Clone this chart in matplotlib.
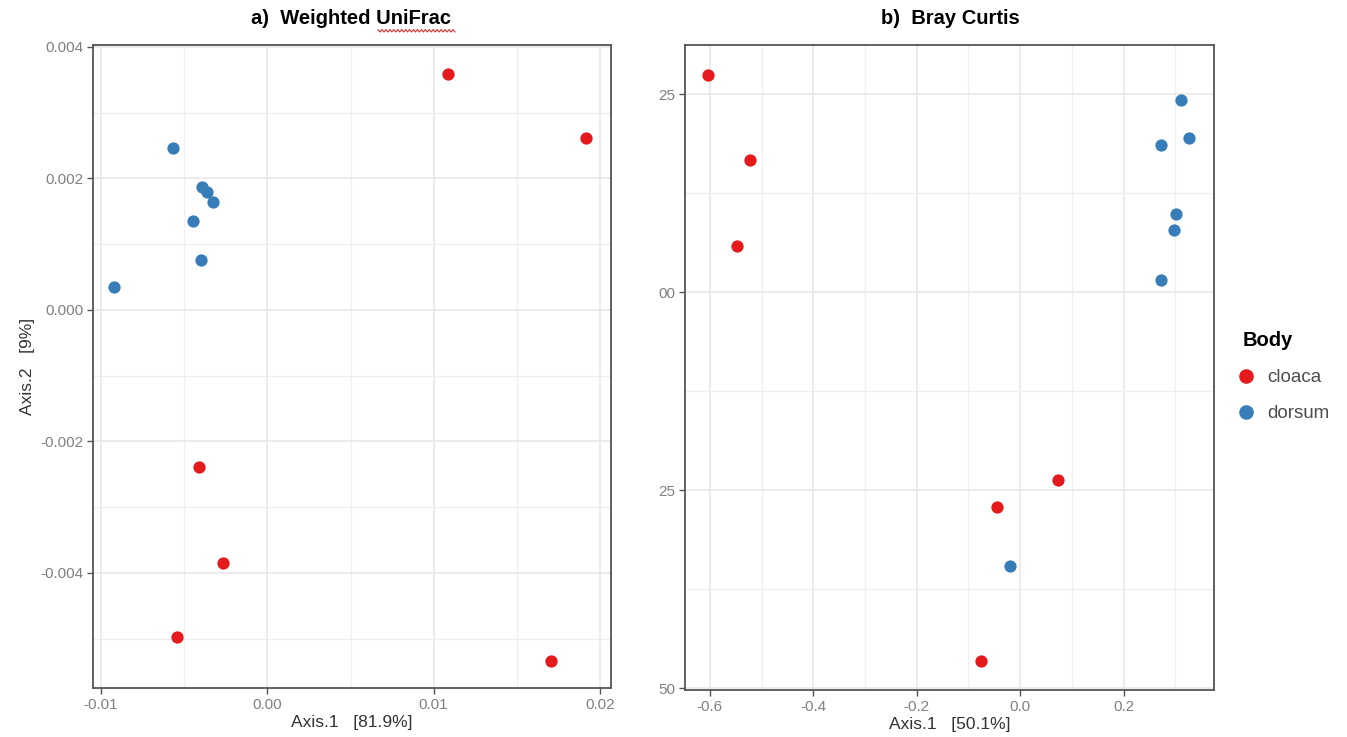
import matplotlib
matplotlib.use("Agg")
import matplotlib.pyplot as plt
from matplotlib.lines import Line2D
import numpy as np

plt.rcParams['font.family'] = ['Liberation Sans', 'DejaVu Sans']

# ---- data ----
groups = ["cloaca", "dorsum"]
colors = {"cloaca": "#E41A1C", "dorsum": "#377EB8"}

# a) Weighted UniFrac
wu_cloaca_x = [0.01087, 0.01916, -0.00408, -0.00264, -0.00541, 0.01706]
wu_cloaca_y = [0.00359, 0.00262, -0.00239, -0.00385, -0.00497, -0.00534]
wu_dorsum_x = [-0.00565, -0.00390, -0.00360, -0.00324, -0.00444, -0.00396, -0.00919]
wu_dorsum_y = [0.00246, 0.00187, 0.00179, 0.00164, 0.00135, 0.00076, 0.00035]

# b) Bray Curtis
bc_cloaca_x = [-0.603, -0.522, -0.547, 0.073, -0.044, -0.075]
bc_cloaca_y = [0.274, 0.167, 0.058, -0.237, -0.271, -0.466]
bc_dorsum_x = [0.311, 0.327, 0.272, 0.301, 0.298, 0.272, -0.019]
bc_dorsum_y = [0.242, 0.194, 0.186, 0.098, 0.078, 0.015, -0.346]

wu_xticks = [-0.01, 0.00, 0.01, 0.02]
wu_xticklabels = ["-0.01", "0.00", "0.01", "0.02"]
wu_yticks = [-0.004, -0.002, 0.000, 0.002, 0.004]
wu_yticklabels = ["-0.004", "-0.002", "0.000", "0.002", "0.004"]
bc_xticks = [-0.6, -0.4, -0.2, 0.0, 0.2]
bc_xticklabels = ["-0.6", "-0.4", "-0.2", "0.0", "0.2"]
bc_yticks = [-0.50, -0.25, 0.00, 0.25]
bc_yticklabels = ["50", "25", "00", "25"]

W, H = 1347, 737
fig = plt.figure(figsize=(W / 100, H / 100), dpi=100)
fig.patch.set_facecolor("white")

def px(x0, y0, x1, y1):
    return [x0 / W, 1 - y1 / H, (x1 - x0) / W, (y1 - y0) / H]

ax1 = fig.add_axes(px(93, 45, 611, 688))
ax2 = fig.add_axes(px(685, 45, 1214, 690))

def style(ax, xticks, xlabels, yticks, ylabels, xminor, yminor):
    ax.set_facecolor("white")
    ax.set_xticks(xticks)
    ax.set_xticklabels(xlabels)
    ax.set_yticks(yticks)
    ax.set_yticklabels(ylabels)
    ax.set_xticks(xminor, minor=True)
    ax.set_yticks(yminor, minor=True)
    ax.grid(True, which="major", color="#e8e8e8", linewidth=1.2, zorder=0)
    ax.grid(True, which="minor", color="#efefef", linewidth=0.9, zorder=0)
    ax.set_axisbelow(True)
    for s in ax.spines.values():
        s.set_color("#555555")
        s.set_linewidth(1.3)
    ax.tick_params(which="major", length=4, width=1.0, color="#555555",
                   labelsize=11, labelcolor="#808080", pad=3)
    ax.tick_params(which="minor", length=0)

style(ax1, wu_xticks, wu_xticklabels, wu_yticks, wu_yticklabels,
      [-0.005, 0.005, 0.015], [-0.005, -0.003, -0.001, 0.001, 0.003])
ax1.set_xlim(-0.01048, 0.02066)
ax1.set_ylim(-0.00575, 0.00403)

style(ax2, bc_xticks, bc_xticklabels, bc_yticks, bc_yticklabels,
      [-0.5, -0.3, -0.1, 0.1, 0.3], [-0.375, -0.125, 0.125])
ax2.set_xlim(-0.648, 0.375)
ax2.set_ylim(-0.5025, 0.312)

ms = 78
ax1.scatter(wu_cloaca_x, wu_cloaca_y, s=ms, color=colors["cloaca"], zorder=3, linewidths=0)
ax1.scatter(wu_dorsum_x, wu_dorsum_y, s=ms, color=colors["dorsum"], zorder=3, linewidths=0)
ax2.scatter(bc_cloaca_x, bc_cloaca_y, s=ms, color=colors["cloaca"], zorder=3, linewidths=0)
ax2.scatter(bc_dorsum_x, bc_dorsum_y, s=ms, color=colors["dorsum"], zorder=3, linewidths=0)

ax1.set_xlabel("Axis.1   [81.9%]", fontsize=12.5, color="#333333", labelpad=2)
ax1.set_ylabel("Axis.2   [9%]", fontsize=12.5, color="#333333", labelpad=4)
ax2.set_xlabel("Axis.1   [50.1%]", fontsize=12.5, color="#333333", labelpad=2)

fig.text(351 / W, 1 - 18 / H, "a)  Weighted UniFrac", ha="center", va="center",
         fontsize=14.5, fontweight="bold", color="black")
fig.text(950 / W, 1 - 18 / H, "b)  Bray Curtis", ha="center", va="center",
         fontsize=14.5, fontweight="bold", color="black")

# spell-check squiggle under "UniFrac"
zx = np.linspace(378, 455, 40)
zy = np.where(np.arange(40) % 2 == 0, 29.5, 32)
fig.add_artist(Line2D(zx / W, 1 - zy / H, color="#e03030", linewidth=0.8))

# legend
handles = [Line2D([], [], marker="o", linestyle="", markersize=10.5,
                  markerfacecolor=colors[g], markeredgewidth=0) for g in groups]
leg = fig.legend(handles, groups, title="Body", loc="upper left",
                 bbox_to_anchor=(1227 / W, 1 - 324 / H), frameon=False,
                 fontsize=13.5, title_fontsize=14.5, handletextpad=0.55,
                 labelspacing=1.0, borderaxespad=0, handlelength=1.2)
leg.get_title().set_fontweight("bold")
leg._legend_box.align = "left"
leg.get_title().set_position((8, 0))
for t in leg.get_texts():
    t.set_color("#4d4d4d")

fig.savefig("out.png", dpi=100, facecolor="white")
